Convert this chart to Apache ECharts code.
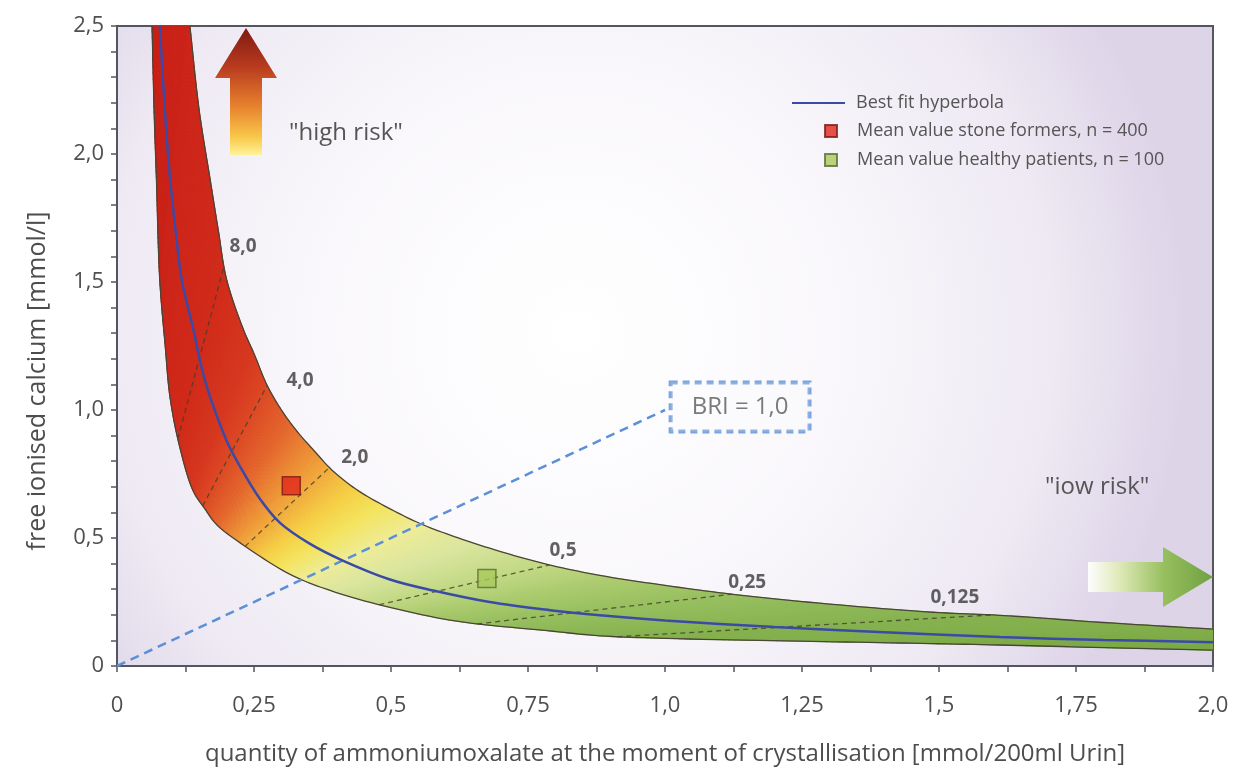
<!DOCTYPE html>
<html><head><meta charset="utf-8">
<script src="https://cdn.jsdelivr.net/npm/echarts@6/dist/echarts.min.js"></script>
<style>html,body{margin:0;padding:0;background:#fff}#c{width:1239px;height:771px}</style>
</head><body><div id="c"></div>
<script>
// ---------- data ----------
const upperX = [0.133,0.150,0.170,0.185,0.200,0.230,0.250,0.274,0.300,0.328,0.360,0.394,0.440,0.500,0.558,0.630,0.700,0.785,0.881,1.000,1.124,1.300,1.489,1.611,1.800,2.000];
const upperY = [2.50,2.17,1.90,1.70,1.51,1.318,1.22,1.096,1.00,0.918,0.84,0.762,0.685,0.612,0.552,0.495,0.447,0.397,0.354,0.315,0.280,0.242,0.210,0.198,0.170,0.144];

const lowerX = [0.064,0.068,0.072,0.078,0.088,0.097,0.115,0.139,0.160,0.182,0.237,0.316,0.389,0.498,0.620,0.785,0.881,1.000,1.246,1.450,1.611,1.800,2.000];
const lowerY = [2.50,2.15,1.90,1.51,1.25,1.046,0.851,0.684,0.615,0.552,0.463,0.358,0.295,0.229,0.175,0.138,0.118,0.108,0.097,0.089,0.082,0.072,0.062];

const fitX = [0.078,0.088,0.097,0.108,0.118,0.139,0.155,0.170,0.200,0.227,0.260,0.297,0.350,0.412,0.498,0.577,0.680,0.790,0.881,1.000,1.200,1.400,1.611,1.800,2.000];
const fitY = [2.50,2.15,1.90,1.68,1.51,1.318,1.16,1.05,0.88,0.77,0.655,0.56,0.48,0.412,0.338,0.295,0.25,0.218,0.198,0.178,0.152,0.132,0.113,0.102,0.093];

const briLevels = [8, 4, 2, 0.5, 0.25, 0.125];
const briLabels = ['8,0','4,0','2,0','0,5','0,25','0,125'];
const briLabelX = [0.23, 0.334, 0.434, 0.814, 1.15, 1.529];
const briLabelY = [1.64, 1.116, 0.813, 0.451, 0.327, 0.268];

const briLineX = [0, 1.0];
const briLineY = [0, 1.0];
const briBoxX = [1.137];
const briBoxY = [1.012];
const briBoxText = 'BRI = 1,0';

const stoneX = [0.318], stoneY = [0.704];
const healthyX = [0.675], healthyY = [0.342];

const xTickValues = [0, 0.25, 0.5, 0.75, 1.0, 1.25, 1.5, 1.75, 2.0];
const xTickLabels = ['0','0,25','0,5','0,75','1,0','1,25','1,5','1,75','2,0'];
const yTickValues = [0, 0.5, 1.0, 1.5, 2.0, 2.5];
const yTickLabels = ['0','0,5','1,0','1,5','2,0','2,5'];

const X_MAX = 2.0, Y_MAX = 2.5;
const xName = 'quantity of ammoniumoxalate at the moment of crystallisation [mmol/200ml Urin]';
const yName = 'free ionised calcium [mmol/l]';
const legendFit = 'Best fit hyperbola';
const legendStone = 'Mean value stone formers, n = 400';
const legendHealthy = 'Mean value healthy patients, n = 100';
const highRiskText = '"high risk"';
const lowRiskText = '"iow risk"';

// ---------- styling / rendering helpers ----------
const bandStops = [
  [40,'#c81f19'],[8,'#d02919'],[5,'#d6361d'],[4,'#dc4722'],[3,'#e4662b'],
  [2.4,'#ec8c34'],[2,'#f1aa3b'],[1.6,'#f5cf44'],[1.3,'#f4e35c'],[1.0,'#eeec96'],
  [0.75,'#dbe69e'],[0.5,'#c0d883'],[0.35,'#a8c96b'],[0.25,'#97bf5f'],[0.125,'#86b24f'],[0.02,'#76a644']
];
function h2r(h){return [parseInt(h.substr(1,2),16),parseInt(h.substr(3,2),16),parseInt(h.substr(5,2),16)];}
function bandColor(r){
  if (r >= bandStops[0][0]) return bandStops[0][1];
  for (let i=0;i<bandStops.length-1;i++){
    const a=bandStops[i], b=bandStops[i+1];
    if (r<=a[0] && r>=b[0]){
      const t=(Math.log(a[0])-Math.log(r))/(Math.log(a[0])-Math.log(b[0]));
      const ca=h2r(a[1]), cb=h2r(b[1]);
      return 'rgb('+ca.map((v,k)=>Math.round(v+(cb[k]-v)*t)).join(',')+')';
    }
  }
  return bandStops[bandStops.length-1][1];
}
function hit(poly, r){
  for (let i=0;i<poly.length-1;i++){
    const a=poly[i], b=poly[i+1];
    const fa=a[1]-r*a[0], fb=b[1]-r*b[0];
    if (fa>=0 && fb<=0 && fa!==fb){
      const t=fa/(fa-fb);
      return [a[0]+t*(b[0]-a[0]), a[1]+t*(b[1]-a[1])];
    }
  }
  return null;
}
// centripetal Catmull-Rom densification of a pixel polyline (for drawing a smooth edge)
function crPoint(p0,p1,p2,p3,t){
  const d=(a,b)=>Math.max(Math.pow(Math.hypot(b[0]-a[0],b[1]-a[1]),0.5),1e-6);
  const t0=0,t1=t0+d(p0,p1),t2=t1+d(p1,p2),t3=t2+d(p2,p3);
  const tt=t1+(t2-t1)*t;
  const L=(a,b,ta,tb)=>[(tb-tt)/(tb-ta)*a[0]+(tt-ta)/(tb-ta)*b[0],(tb-tt)/(tb-ta)*a[1]+(tt-ta)/(tb-ta)*b[1]];
  const A1=L(p0,p1,t0,t1), A2=L(p1,p2,t1,t2), A3=L(p2,p3,t2,t3);
  const B1=L(A1,A2,t0,t2), B2=L(A2,A3,t1,t3);
  return L(B1,B2,t1,t2);
}
function smoothPix(pts, seg){
  const n=pts.length, out=[];
  for (let i=0;i<n-1;i++){
    const p1=pts[i], p2=pts[i+1];
    const p0=i>0?pts[i-1]:[2*p1[0]-p2[0],2*p1[1]-p2[1]];
    const p3=i+2<n?pts[i+2]:[2*p2[0]-p1[0],2*p2[1]-p1[1]];
    for (let s=0;s<seg;s++) out.push(crPoint(p0,p1,p2,p3,s/seg));
  }
  out.push(pts[n-1]);
  return out;
}
function renderBand(params, api){
  const O = api.coord([0,0]), P = api.coord([1,1]);
  const kx = P[0]-O[0], ky = O[1]-P[1];
  const toData = p => [(p[0]-O[0])/kx, (O[1]-p[1])/ky];
  const upperPix = smoothPix(upperX.map((x,i)=>api.coord([x,upperY[i]])), 10);
  const lowerPix = smoothPix(lowerX.map((x,i)=>api.coord([x,lowerY[i]])), 10);
  const upper = upperPix.map(toData), near = lowerPix.map(toData);
  const far = [[lowerX[0], Y_MAX]].concat(upper).concat([[X_MAX, lowerY[lowerY.length-1]]]);
  const rMax = Y_MAX/lowerX[0]*0.9995, rMin = lowerY[lowerY.length-1]/X_MAX*1.0005;
  const N = 520, children = [];
  let pN=null, pF=null, pR=null;
  for (let k=0;k<=N;k++){
    const r = Math.exp(Math.log(rMax)+(Math.log(rMin)-Math.log(rMax))*k/N);
    const n = hit(near,r), f = hit(far,r);
    if (!n || !f) continue;
    if (pN){
      const c = bandColor(Math.sqrt(r*pR));
      children.push({type:'polygon', silent:true,
        shape:{points:[api.coord(pN),api.coord(pF),api.coord(f),api.coord(n)]},
        style:{fill:c, stroke:c, lineWidth:0.9}});
    }
    pN=n; pF=f; pR=r;
  }
  briLevels.forEach(r=>{
    const n=hit(near,r), f=hit(far,r);
    if(!n||!f) return;
    const p1=api.coord(n), p2=api.coord(f);
    children.push({type:'line', silent:true, shape:{x1:p1[0],y1:p1[1],x2:p2[0],y2:p2[1]},
      style:{stroke:'rgba(70,62,40,0.8)', lineWidth:1.3, lineDash:[5,4]}});
  });
  children.push({type:'polyline', silent:true, shape:{points:upperPix},
    style:{stroke:'#4a4536', lineWidth:1.3, fill:null}});
  children.push({type:'polyline', silent:true, shape:{points:lowerPix},
    style:{stroke:'#4a4536', lineWidth:1.3, fill:null}});
  return {type:'group', children};
}
function fmtFrom(values, labels){
  return function(v){
    const i = values.findIndex(t=>Math.abs(t-v)<1e-6);
    return i>=0 ? labels[i] : '';
  };
}

const chart = echarts.init(document.getElementById('c'));
const FONT = 'Open Sans';
const axisCol = '#555562';
chart.setOption({
  animation:false,
  textStyle:{fontFamily:FONT},
  grid:{left:117,right:26,top:26,bottom:102,show:true,borderColor:axisCol,borderWidth:2,
    backgroundColor:{type:'radial',x:0.42,y:0.48,r:0.95,colorStops:[
      {offset:0,color:'#ffffff'},{offset:0.45,color:'#f9f7fb'},{offset:0.78,color:'#eee9f3'},{offset:1,color:'#ddd4e8'}]}},
  legend:[
    {data:[legendFit], left:787, top:89, itemWidth:53, itemHeight:12, icon:'path://M0,5L53,5L53,7L0,7Z',
      textStyle:{color:'#555',fontSize:18,padding:[0,0,0,6]}, itemStyle:{color:'#3b4aa6'}},
    {data:[legendStone, legendHealthy], orient:'vertical', left:819, top:117, itemWidth:12, itemHeight:12, itemGap:11,
      textStyle:{color:'#555',fontSize:18,padding:[0,0,0,15]}}
  ],
  xAxis:{type:'value', min:0, max:X_MAX, interval:0.125,
    name:xName, nameLocation:'middle', nameGap:76,
    nameTextStyle:{color:'#4d4d4d',fontSize:24},
    axisLine:{show:true,lineStyle:{color:axisCol,width:2}},
    axisTick:{show:true,length:6,lineStyle:{color:axisCol,width:1.5}},
    splitLine:{show:false},
    axisLabel:{color:'#4f4f4f',fontSize:22,margin:29,formatter:fmtFrom(xTickValues,xTickLabels)}},
  yAxis:{type:'value', min:0, max:Y_MAX, interval:0.1,
    name:yName, nameLocation:'middle', nameGap:67,
    nameTextStyle:{color:'#4d4d4d',fontSize:25,padding:[0,70,0,0]},
    axisLine:{show:true,lineStyle:{color:axisCol,width:2}},
    axisTick:{show:true,length:6,lineStyle:{color:axisCol,width:1.5}},
    splitLine:{show:false},
    axisLabel:{color:'#4f4f4f',fontSize:22,margin:13,formatter:fmtFrom(yTickValues,yTickLabels)}},
  graphic:[
    {type:'polygon', z:10, shape:{points:[[246,28],[277,78],[262,78],[262,155],[230,155],[230,78],[215,78]]},
      style:{fill:new echarts.graphic.LinearGradient(0,0,0,1,[
        {offset:0,color:'#7e1a12'},{offset:0.3,color:'#b83a1e'},{offset:0.62,color:'#e8822e'},{offset:0.86,color:'#f8c84a'},{offset:1,color:'#fff39a'}])}},
    {type:'polygon', z:10, shape:{points:[[1088,562],[1163,562],[1163,547],[1213,577],[1163,607],[1163,592],[1088,592]]},
      style:{fill:new echarts.graphic.LinearGradient(0,0,1,0,[
        {offset:0,color:'rgba(255,255,255,0.95)'},{offset:0.25,color:'#dfe9b8'},{offset:0.6,color:'#98c060'},{offset:1,color:'#6fa040'}])}},
    {type:'text', z:10, left:289, top:121, style:{text:highRiskText, fill:'#555', fontSize:24, fontFamily:FONT}},
    {type:'text', z:10, left:1045, top:475, style:{text:lowRiskText, fill:'#555', fontSize:24, fontFamily:FONT}}
  ],
  series:[
    {type:'custom', name:'band', renderItem:renderBand, data:[[0,0]], clip:true, z:1, silent:true},
    {type:'line', name:'BRI', data:briLineX.map((x,i)=>[x,briLineY[i]]), symbol:'none', z:3,
      lineStyle:{color:'#5b8fd6',width:2.5,type:[9,6]}},
    {type:'line', name:legendFit, data:fitX.map((x,i)=>[x,fitY[i]]), smooth:0.35, symbol:'none', z:4,
      lineStyle:{color:'#3b4aa6',width:2.5}, itemStyle:{color:'#3b4aa6'}},
    {type:'scatter', name:'briLabels', z:6, symbolSize:1, itemStyle:{color:'rgba(0,0,0,0)'},
      data:briLabelX.map((x,i)=>({value:[x,briLabelY[i]], label:{formatter:briLabels[i]}})),
      label:{show:true, position:'inside', color:'#3a3a3a', fontSize:19, fontWeight:'bold'}},
    {type:'scatter', name:'briBox', z:6, symbolSize:1, itemStyle:{color:'rgba(0,0,0,0)'},
      data:briBoxX.map((x,i)=>[x,briBoxY[i]]),
      label:{show:true, position:'inside', formatter:briBoxText, color:'#5a5a5a', fontSize:24,
        padding:[13,21,12,21], borderColor:'#5b8fd6', borderWidth:2, borderType:[7,5], backgroundColor:'rgba(255,255,255,0.2)'}},
    {type:'scatter', name:legendStone, z:7, symbol:'rect', symbolSize:18,
      data:stoneX.map((x,i)=>[x,stoneY[i]]),
      itemStyle:{color:'#e2261b',borderColor:'#7c1a12',borderWidth:1.5}},
    {type:'scatter', name:legendHealthy, z:7, symbol:'rect', symbolSize:18,
      data:healthyX.map((x,i)=>[x,healthyY[i]]),
      itemStyle:{color:'#a9c95c',borderColor:'#5d6b30',borderWidth:1.5}}
  ]
});
</script></body></html>
